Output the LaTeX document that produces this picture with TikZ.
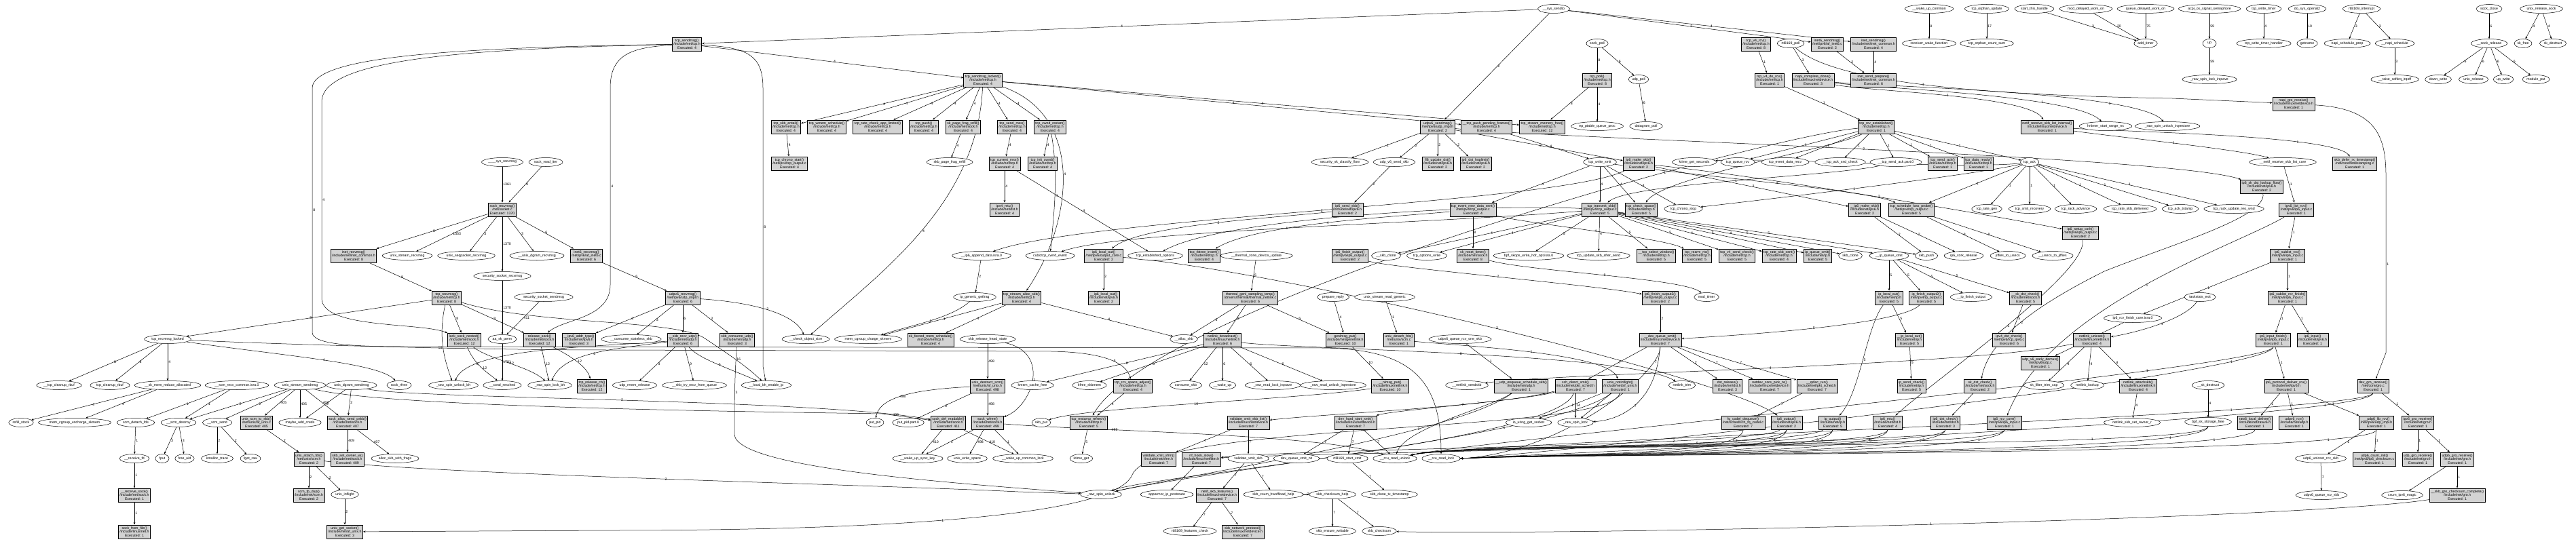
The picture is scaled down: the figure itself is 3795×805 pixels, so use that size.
\documentclass[tikz,border=0pt]{standalone}
\usepackage{fontspec}
\setmainfont{Liberation Sans}
\usetikzlibrary{shapes.geometric,arrows.meta,backgrounds}
\definecolor{boxgray}{RGB}{211,211,211}
\newcommand{\nf}{\fontsize{5.2}{5.6}\selectfont}
\tikzset{
 fn/.style={draw, line width=0.85pt, fill=boxgray, rectangle, align=center, inner xsep=2pt, inner ysep=1pt, minimum height=20pt, font=\nf},
 ex/.style={draw, line width=0.5pt, ellipse, fill=white, inner xsep=0.6pt, inner ysep=0.3pt, minimum height=13pt, minimum width=20pt, font=\nf},
 e/.style={-{Stealth[length=3.6pt,width=2.8pt]}, line width=0.5pt},
 lb/.style={font=\nf, inner sep=1pt, right, pos=0.5}
}
\newcommand{\FB}[6]{\node[fn] (#3) at (#1,#2) {#4\\#5\\Executed: #6};}
\newcommand{\EL}[4]{\node[ex] (#3) at (#1,#2) {#4};}
\newcommand{\edg}[3]{\draw[e] (#1) -- node[lb]{#3} (#2);}
\begin{document}
\catcode`\_=12
\begin{tikzpicture}[x=1pt,y=-1pt]
\useasboundingbox (0,0) rectangle (3795,805);
% ---------- boxes ----------
\FB{521}{377}{inetrecv}{inet_recvmsg()}{/include/net/inet_common.h}{8}
\FB{1012}{65}{tcpsendmsg}{tcp_sendmsg()}{/include/net/tcp.h}{4}
\FB{1158}{187}{skbentail}{tcp_skb_entail()}{/include/net/tcp.h}{4}
\FB{1218}{187}{wmemsched}{tcp_wmem_schedule()}{/include/net/tcp.h}{4}
\FB{1163}{241}{chronostart}{tcp_chrono_start()}{/net/ipv4/tcp_output.c}{4}
\FB{740}{309}{sockrecv}{sock_recvmsg()}{/net/socket.c}{1370}
\FB{864}{377}{inet6recv}{inet6_recvmsg()}{/net/ipv6/af_inet6.c}{6}
\FB{1448}{118}{sendlocked}{tcp_sendmsg_locked()}{/include/net/tcp.h}{4}
\FB{1293}{187}{ratecheck}{tcp_rate_check_app_limited()}{/include/net/tcp.h}{4}
\FB{1361}{187}{tcppush}{tcp_push()}{/include/net/tcp.h}{4}
\FB{1419}{187}{pagefrag}{sk_page_frag_refill()}{/include/net/sock.h}{4}
\FB{1491}{187}{sendmss}{tcp_send_mss()}{/include/net/tcp.h}{4}
\FB{1547}{187}{cwndrestart}{tcp_cwnd_restart()}{/include/net/tcp.h}{4}
\FB{1480}{241}{curmss}{tcp_current_mss()}{/include/net/tcp.h}{4}
\FB{1536}{241}{initcwnd}{tcp_init_cwnd()}{/include/net/tcp.h}{4}
\FB{1480}{309}{ipv4mtu}{ipv4_mtu()}{/include/net/dst.h}{4}
\FB{1626}{377}{ip6localout}{ip6_local_out()}{/net/ipv6/output_core.c}{2}
\FB{1774}{377}{rbtree}{tcp_rbtree_insert()}{/include/net/tcp.h}{4}
\FB{2353}{118}{tcppoll}{tcp_poll()}{/include/net/tcp.h}{8}
\FB{2118}{187}{udpv6send}{udpv6_sendmsg()}{/net/ipv6/udp_impl.h}{2}
\FB{2190}{187}{pushpending}{__tcp_push_pending_frames()}{/include/net/tcp.h}{4}
\FB{2272}{187}{memfree}{tcp_stream_memory_free()}{/include/net/tcp.h}{12}
\FB{2118}{241}{fl6upd}{fl6_update_dst()}{/include/net/ipv6.h}{2}
\FB{2174}{241}{hoplimit}{ip6_dst_hoplimit()}{/include/net/ipv6.h}{2}
\FB{2414}{241}{ip6makeskb}{ip6_make_skb()}{/include/net/ipv6.h}{2}
\FB{1985}{309}{ip6sendskb}{ip6_send_skb()}{/include/net/ipv6.h}{2}
\FB{2170}{309}{newdata}{tcp_event_new_data_sent()}{/net/ipv4/tcp_output.c}{4}
\FB{2357}{309}{transmit}{__tcp_transmit_skb()}{/net/ipv4/tcp_output.c}{5}
\FB{2418}{309}{checkspace}{tcp_check_space()}{/include/net/tcp.h}{5}
\FB{1989}{377}{ip6finout}{ip6_finish_output()}{/net/ipv6/ip6_output.c}{2}
\FB{2170}{377}{resettimer}{sk_reset_timer()}{/include/net/sock.h}{8}
\FB{2440}{377}{selwin}{__tcp_select_window()}{/include/net/tcp.h}{5}
\FB{2500}{377}{rearm}{tcp_rearm_rto()}{/include/net/tcp.h}{5}
\FB{2587}{65}{v4rcv}{tcp_v4_rcv()}{/include/net/tcp.h}{8}
\FB{2692}{65}{inet6send}{inet6_sendmsg()}{/net/ipv6/af_inet6.c}{2}
\FB{2760}{65}{inetsend}{inet_sendmsg()}{/include/net/inet_common.h}{4}
\FB{2607}{118}{v4dorcv}{tcp_v4_do_rcv()}{/include/net/tcp.h}{1}
\FB{2671}{118}{napicomplete}{napi_complete_done()}{/include/linux/netdevice.h}{3}
\FB{2760}{118}{sendprep}{inet_send_prepare()}{/include/net/inet_common.h}{6}
\FB{2764}{187}{rcvest}{tcp_rcv_established()}{/include/net/tcp.h}{1}
\FB{3016}{187}{netifrecv}{netif_receive_skb_list_internal()}{/include/linux/netdevice.h}{1}
\FB{2862}{241}{sendack}{tcp_send_ack()}{/include/net/tcp.h}{1}
\FB{2915}{241}{dataready}{tcp_data_ready()}{/include/net/tcp.h}{1}
\FB{2747}{309}{ip6mkskb2}{__ip6_make_skb()}{/include/net/ipv6.h}{2}
\FB{2816}{309}{losspr}{tcp_schedule_loss_probe()}{/net/ipv4/tcp_output.c}{5}
\FB{3065}{343}{setupcork}{ip6_setup_cork()}{/net/ipv6/ip6_output.c}{2}
\FB{2559}{377}{v4sendcheck}{tcp_v4_send_check()}{/include/net/tcp.h}{5}
\FB{2621}{377}{rateskbsent}{tcp_rate_skb_sent()}{/include/net/tcp.h}{4}
\FB{2678}{377}{ipqueuexmit}{ip_queue_xmit()}{/include/net/ip.h}{5}
\FB{3379}{153}{napigro}{napi_gro_receive()}{/include/linux/netdevice.h}{1}
\FB{3469}{241}{deferrx}{skb_defer_rx_timestamp()}{/net/core/timestamping.c}{1}
\FB{3332}{275}{sklookup}{ip6_sk_dst_lookup_flow()}{/include/net/ipv6.h}{2}
\FB{3383}{309}{ipv6listrcv}{ipv6_list_rcv()}{/net/ipv6/ip6_input.c}{1}
\FB{3370}{377}{sublistrcv}{ip6_sublist_rcv()}{/net/ipv6/ip6_input.c}{1}
\FB{378}{623}{unixscm}{unix_scm_to_skb()}{/net/unix/af_unix.c}{405}
\FB{512}{623}{allocsend}{sock_alloc_send_pskb()}{/include/net/sock.h}{407}
\FB{455}{677}{attachfds}{unix_attach_fds()}{/net/unix/scm.h}{2}
\FB{512}{677}{setownerw}{skb_set_owner_w()}{/include/net/sock.h}{409}
\FB{198}{730}{recvsock}{__receive_sock()}{/include/net/sock.h}{1}
\FB{455}{730}{fpdup}{scm_fp_dup()}{/include/net/scm.h}{2}
\FB{198}{784}{fromfile}{sock_from_file()}{/include/linux/net.h}{1}
\FB{508}{784}{getsocket}{unix_get_socket()}{/include/net/af_unix.h}{3}
\FB{658}{439}{tcprecv}{tcp_recvmsg()}{/include/net/tcp.h}{8}
\FB{1006}{439}{udpv6recv}{udpv6_recvmsg()}{/net/ipv6/udp_impl.h}{6}
\FB{684}{501}{locknested}{lock_sock_nested()}{/include/net/sock.h}{12}
\FB{795}{501}{releasesock}{release_sock()}{/include/net/sock.h}{12}
\FB{853}{501}{addrtype}{__ipv6_addr_type()}{/include/net/ipv6.h}{3}
\FB{1006}{501}{skbrecvudp}{__skb_recv_udp()}{/include/net/udp.h}{6}
\FB{1086}{501}{consumeudp}{skb_consume_udp()}{/include/net/udp.h}{3}
\FB{872}{569}{releasecb}{tcp_release_cb()}{/include/net/tcp.h}{12}
\FB{1505}{439}{allocskb}{tcp_stream_alloc_skb()}{/include/net/tcp.h}{4}
\FB{1626}{439}{ip6localout2}{__ip6_local_out()}{/include/net/ipv6.h}{2}
\FB{1842}{439}{thermalgenl}{thermal_genl_sampling_temp()}{/drivers/thermal/thermal_netlink.c}{6}
\FB{1371}{501}{forcedmem}{sk_forced_mem_schedule()}{/include/net/tcp.h}{4}
\FB{1801}{501}{nlbroadcast}{netlink_broadcast()}{/include/linux/netlink.h}{6}
\FB{1455}{569}{destructscm}{unix_destruct_scm()}{/net/unix/af_unix.h}{498}
\FB{1669}{569}{spaceadj}{tcp_rcv_space_adjust()}{/include/net/tcp.h}{4}
\FB{1397}{623}{defreadable}{sock_def_readable()}{/include/net/sock.h}{411}
\FB{1455}{623}{sockwfree}{sock_wfree()}{/include/net/sock.h}{499}
\FB{1604}{623}{mstamp}{tcp_mstamp_refresh()}{/include/net/tcp.h}{5}
\FB{1839}{623}{vxlist}{validate_xmit_skb_list()}{/include/linux/netdevice.h}{7}
\FB{1707}{677}{vxfrm}{validate_xmit_xfrm()}{/include/net/xfrm.h}{7}
\FB{1770}{677}{nfhook}{nf_hook_slow()}{/include/linux/netfilter.h}{7}
\FB{1793}{730}{skbfeat}{netif_skb_features()}{/include/linux/netdevice.h}{7}
\FB{1831}{784}{netproto}{skb_network_protocol()}{/include/linux/netdevice.h}{7}
\FB{2446}{439}{ip6finout2}{ip6_finish_output2()}{/net/ipv6/ip6_output.c}{2}
\FB{1982}{501}{genlmsgput}{genlmsg_put()}{/include/net/genetlink.h}{10}
\FB{2061}{501}{detachfds}{unix_detach_fds()}{/net/unix/scm.c}{1}
\FB{2446}{501}{devqxmit}{__dev_queue_xmit()}{/include/linux/netdevice.h}{7}
\FB{2048}{569}{nlmsgput}{__nlmsg_put()}{/include/linux/netlink.h}{10}
\FB{2241}{569}{udpenq}{__udp_enqueue_schedule_skb()}{/include/net/udp.h}{1}
\FB{2321}{569}{schdirect}{sch_direct_xmit()}{/include/net/pkt_sched.h}{7}
\FB{2387}{569}{notinflight}{unix_notinflight()}{/include/net/af_unix.h}{1}
\FB{2545}{569}{dstrelease}{dst_release()}{/include/net/dst.h}{3}
\FB{1997}{623}{hardstart}{dev_hard_start_xmit()}{/include/linux/netdevice.h}{7}
\FB{2783}{439}{iplocalout}{ip_local_out()}{/include/net/ip.h}{5}
\FB{2838}{439}{ipfinout2}{ip_finish_output2()}{/net/ipv4/ip_output.c}{5}
\FB{2984}{439}{skdstcheck2}{__sk_dst_check()}{/include/net/sock.h}{5}
\FB{2813}{501}{iplocalout2}{__ip_local_out()}{/include/net/ip.h}{5}
\FB{2960}{501}{v4dstcheck}{ipv4_dst_check()}{/net/ipv6/tcp_ipv6.c}{6}
\FB{3082}{501}{nlunicast}{netlink_unicast()}{/include/linux/netlink.h}{4}
\FB{3006}{535}{earlydemux}{udp_v6_early_demux()}{/net/ipv6/udp.c}{1}
\FB{2607}{569}{pickTx}{netdev_core_pick_tx()}{/include/linux/netdevice.h}{7}
\FB{2677}{569}{qdiscrun}{__qdisc_run()}{/include/net/pkt_sched.h}{7}
\FB{2816}{569}{ipsendcheck}{ip_send_check()}{/include/net/ip.h}{5}
\FB{2917}{569}{skdstcheck}{sk_dst_check()}{/include/net/sock.h}{2}
\FB{3150}{569}{attachskb}{netlink_attachskb()}{/include/linux/netlink.h}{4}
\FB{2568}{623}{fqcodel}{fq_codel_dequeue()}{/net/sched/sch_fq_codel.c}{7}
\FB{2632}{623}{ip6output}{ip6_output()}{/include/net/ipv6.h}{2}
\FB{2700}{623}{ipoutput}{ip_output()}{/include/net/ip.h}{5}
\FB{2781}{623}{ip6mtu}{ip6_mtu()}{/include/net/dst.h}{4}
\FB{2866}{623}{ip6dstcheck}{ip6_dst_check()}{/include/net/dst.h}{3}
\FB{2953}{623}{ip6rcvcore}{ip6_rcv_core()}{/net/ipv6/ip6_input.c}{1}
\FB{3370}{439}{sublistfin}{ip6_sublist_rcv_finish()}{/net/ipv6/ip6_input.c}{1}
\FB{3349}{501}{inputfin}{ip6_input_finish()}{/net/ipv6/ip6_input.c}{1}
\FB{3407}{501}{ip6input}{ip6_input()}{/include/net/ipv6.h}{1}
\FB{3368}{569}{protodeliver}{ip6_protocol_deliver_rcu()}{/include/net/ipv6.h}{1}
\FB{3496}{569}{devgro}{dev_gro_receive()}{/net/core/gro.c}{1}
\FB{3322}{623}{rawdeliver}{raw6_local_deliver()}{/include/net/rawv6.h}{1}
\FB{3380}{623}{udpv6rcv}{udpv6_rcv()}{/include/net/udp.h}{1}
\FB{3501}{623}{udp6librcv}{__udp6_lib_rcv()}{/net/ipv6/udp_impl.h}{1}
\FB{3562}{623}{ipv6gro}{ipv6_gro_receive()}{/include/net/gro.h}{1}
\FB{3498}{677}{csuminit}{udp6_csum_init()}{/net/ipv6/ip6_checksum.c}{1}
\FB{3562}{677}{udpgro}{udp_gro_receive()}{/include/net/gro.h}{1}
\FB{3620}{677}{udp6gro}{udp6_gro_receive()}{/include/net/gro.h}{1}
\FB{3620}{730}{grocsum}{__skb_gro_checksum_complete()}{/include/net/gro.h}{1}
% ---------- ellipses ----------
\EL{600}{377}{unixstreamrecv}{unix_stream_recvmsg}
\EL{740}{239}{sysrecv}{____sys_recvmsg}
\EL{804}{239}{readiter}{sock_read_iter}
\EL{687}{377}{seqpacket}{unix_seqpacket_recvmsg}
\EL{791}{377}{dgramrecv}{__unix_dgram_recvmsg}
\EL{740}{407}{secrecv}{security_socket_recvmsg}
\EL{1399}{239}{pagefragrefill}{skb_page_frag_refill}
\EL{1446}{377}{appenddata}{__ip6_append_data.isra.0}
\EL{1547}{377}{cubic}{cubictcp_cwnd_event}
\EL{1702}{377}{estopts}{tcp_established_options}
\EL{1851}{377}{thermalupd}{__thermal_zone_device_update}
\EL{2289}{13}{systo}{__sys_sendto}
\EL{2353}{64}{sockpoll}{sock_poll}
\EL{2414}{117}{udppoll}{udp_poll}
\EL{2353}{186}{epqueue}{ep_ptable_queue_proc}
\EL{2425}{186}{dgrampoll}{datagram_poll}
\EL{1974}{239}{classify}{security_sk_classify_flow}
\EL{2054}{239}{v6sendskb}{udp_v6_send_skb}
\EL{2357}{239}{writexmit}{tcp_write_xmit}
\EL{2496}{239}{ktimesec}{ktime_get_seconds}
\EL{2480}{308}{chronostop}{tcp_chrono_stop}
\EL{2042}{377}{skbclone2}{__skb_clone}
\EL{2102}{377}{optwrite}{tcp_options_write}
\EL{2252}{377}{bpfskops}{bpf_skops_write_hdr_opt.isra.0}
\EL{2355}{377}{updafter}{tcp_update_skb_after_send}
\EL{2842}{13}{wakeupcommon}{__wake_up_common}
\EL{2927}{13}{orphanupd}{tcp_orphan_update}
\EL{2997}{13}{starthandle}{start_this_handle}
\EL{3073}{13}{moddelayed}{mod_delayed_work_on}
\EL{3161}{13}{queuedelayed}{queue_delayed_work_on}
\EL{2842}{64}{recvwake}{receiver_wake_function}
\EL{2927}{64}{orphancount}{tcp_orphan_count_sum}
\EL{3161}{64}{addtimer}{add_timer}
\EL{2638}{64}{rtlpoll}{rtl8169_poll}
\EL{3102}{186}{hrtimer}{hrtimer_start_range_ns}
\EL{3193}{186}{unlockirq}{_raw_spin_unlock_irqrestore}
\EL{2560}{239}{queuercv}{tcp_queue_rcv}
\EL{2630}{239}{datarecv}{tcp_event_data_recv}
\EL{2711}{239}{acksnd}{__tcp_ack_snd_check}
\EL{2793}{239}{sendackpart}{__tcp_send_ack.part.0}
\EL{2990}{239}{tcpack}{tcp_ack}
\EL{2927}{308}{rategen}{tcp_rate_gen}
\EL{2990}{308}{xmitrec}{tcp_xmit_recovery}
\EL{3058}{308}{rackadv}{tcp_rack_advance}
\EL{3138}{308}{rateskbdel}{tcp_rate_skb_delivered}
\EL{2726}{377}{skbclone}{skb_clone}
\EL{2783}{377}{ipqxmit2}{__ip_queue_xmit}
\EL{2838}{377}{skbpush}{skb_push}
\EL{2893}{377}{corkrel}{ip6_cork_release}
\EL{2958}{377}{jif2usec}{jiffies_to_usecs}
\EL{3024}{377}{usec2jif}{__usecs_to_jiffies}
\EL{3255}{13}{acpisig}{acpi_os_signal_semaphore}
\EL{3335}{13}{writetimer}{tcp_write_timer}
\EL{3399}{13}{openat}{do_sys_openat2}
\EL{3479}{13}{rtlint}{rtl8169_interrupt}
\EL{3667}{13}{sockclose}{sock_close}
\EL{3744}{13}{unixrelsock}{unix_release_sock}
\EL{3255}{64}{up}{up}
\EL{3335}{64}{writetimerh}{tcp_write_timer_handler}
\EL{3399}{64}{getname}{getname}
\EL{3458}{64}{napisched}{napi_schedule_prep}
\EL{3528}{64}{napisched2}{__napi_schedule}
\EL{3667}{64}{sockrelease}{__sock_release}
\EL{3717}{64}{skfree}{sk_free}
\EL{3761}{64}{skdestruct}{sk_destruct}
\EL{3255}{117}{lockirqsave}{_raw_spin_lock_irqsave}
\EL{3528}{117}{raisesoftirq}{__raise_softirq_irqoff}
\EL{3592}{117}{downwrite}{down_write}
\EL{3644}{117}{unixrelease}{unix_release}
\EL{3688}{117}{upwrite}{up_write}
\EL{3736}{117}{moduleput}{module_put}
\EL{3363}{239}{listcore}{__netif_receive_skb_list_core}
\EL{3212}{308}{acktstamp}{tcp_ack_tstamp}
\EL{3291}{308}{reownd}{tcp_rack_update_reo_wnd}
\EL{247}{500}{recvlocked}{tcp_recvmsg_locked}
\EL{87}{568}{cleanrbuf2}{__tcp_cleanup_rbuf}
\EL{162}{568}{cleanrbuf}{tcp_cleanup_rbuf}
\EL{247}{568}{memreduce}{__sk_mem_reduce_allocated}
\EL{349}{568}{scmrecv}{__scm_recv_common.isra.0}
\EL{442}{568}{unixstreamsend}{unix_stream_sendmsg}
\EL{518}{568}{unixdgramsend}{unix_dgram_sendmsg}
\EL{588}{568}{sockrfree}{sock_rfree}
\EL{31}{623}{refill}{refill_stock}
\EL{110}{623}{uncharge}{mem_cgroup_uncharge_skmem}
\EL{200}{623}{scmdetach}{scm_detach_fds}
\EL{263}{623}{scmdestroy}{__scm_destroy}
\EL{320}{623}{scmsend}{__scm_send}
\EL{442}{623}{addcreds}{maybe_add_creds}
\EL{198}{676}{receivefd}{__receive_fd}
\EL{239}{676}{fput}{fput}
\EL{272}{676}{freeuid}{free_uid}
\EL{320}{676}{kmalloc}{kmalloc_trace}
\EL{369}{676}{fgetraw}{fget_raw}
\EL{582}{676}{allocfrags}{alloc_skb_with_frags}
\EL{508}{729}{inflight}{unix_inflight}
\EL{801}{438}{secsend}{security_socket_sendmsg}
\EL{740}{500}{aaperm}{aa_sk_perm}
\EL{930}{500}{consumestateless}{__consume_stateless_skb}
\EL{1187}{500}{checkobj}{__check_object_size}
\EL{1279}{500}{charge}{mem_cgroup_charge_skmem}
\EL{668}{568}{unlockbh}{_raw_spin_unlock_bh}
\EL{740}{568}{condresched}{__cond_resched}
\EL{810}{568}{lockbh}{_raw_spin_lock_bh}
\EL{935}{568}{rmemrel}{udp_rmem_release}
\EL{1023}{568}{tryrecv}{__skb_try_recv_from_queue}
\EL{1129}{568}{bhenable}{__local_bh_enable_ip}
\EL{1436}{438}{getfrag}{ip_generic_getfrag}
\EL{1455}{500}{headstate}{skb_release_head_state}
\EL{1744}{500}{allocskb2}{__alloc_skb}
\EL{1521}{568}{kmemfree}{kmem_cache_free}
\EL{1605}{568}{kfreeskbmem}{kfree_skbmem}
\EL{1747}{568}{consumeskb}{consume_skb}
\EL{1801}{568}{wakeup}{__wake_up}
\EL{1875}{568}{readlock}{_raw_read_lock_irqsave}
\EL{1964}{568}{readunlock}{_raw_read_unlock_irqrestore}
\EL{1289}{623}{putpid}{put_pid}
\EL{1338}{623}{putpidpart}{put_pid.part.0}
\EL{1534}{623}{skbput}{skb_put}
\EL{1352}{676}{wakesync}{__wake_up_sync_key}
\EL{1425}{676}{writespace}{unix_write_space}
\EL{1507}{676}{wakecommonlock}{__wake_up_common_lock}
\EL{1593}{676}{ktimeget}{ktime_get}
\EL{1839}{676}{vxskb}{validate_xmit_skb}
\EL{1910}{676}{qxmitnit}{dev_queue_xmit_nit}
\EL{1622}{729}{spinunlock}{_raw_spin_unlock}
\EL{1719}{729}{apparmor}{apparmor_ip_postroute}
\EL{1876}{729}{hwoffload}{skb_csum_hwoffload_help}
\EL{1753}{783}{featcheck}{rtl8169_features_check}
\EL{1964}{438}{preparereply}{prepare_reply}
\EL{2040}{438}{readgeneric}{unix_stream_read_generic}
\EL{2514}{438}{modtimer}{mod_timer}
\EL{2151}{500}{queuercvone}{udpv6_queue_rcv_one_skb}
\EL{2161}{568}{nlsendskb}{__netlink_sendskb}
\EL{2478}{568}{nltrim}{netlink_trim}
\EL{2252}{623}{iouring}{io_uring_get_socket}
\EL{2321}{623}{spinlock}{_raw_spin_lock}
\EL{2055}{676}{rcuunlock}{__rcu_read_unlock}
\EL{2123}{676}{rculock}{__rcu_read_lock}
\EL{1985}{676}{startxmit}{rtl8169_start_xmit}
\EL{1963}{729}{csumhelp}{skb_checksum_help}
\EL{2047}{729}{clonets}{skb_clone_tx_timestamp}
\EL{1963}{783}{ensurewr}{skb_ensure_writable}
\EL{2032}{783}{skbchecksum}{skb_checksum}
\EL{2904}{438}{ipfinout}{__ip_finish_output}
\EL{3142}{469}{rcvfincore}{ip6_rcv_finish_core.isra.0}
\EL{3011}{568}{filtertrim}{sk_filter_trim_cap}
\EL{3075}{568}{nllookup}{netlink_lookup}
\EL{3141}{623}{setownerr}{netlink_skb_set_owner_r}
\EL{3241}{438}{taskstats}{taskstats_exit}
\EL{3253}{568}{skdestruct2}{__sk_destruct}
\EL{3253}{622}{bpfstorage}{bpf_sk_storage_free}
\EL{3419}{676}{unicastrcv}{udp6_unicast_rcv_skb}
\EL{3420}{730}{queuercvskb}{udpv6_queue_rcv_skb}
\EL{3539}{730}{csummagic}{csum_ipv6_magic}
% ---------- edges ----------
\begin{pgfonlayer}{background}
\fill[white] (0,0) rectangle (3795,805);
% receive side
\edg{sysrecv}{sockrecv}{1361}
\edg{readiter}{sockrecv}{9}
\edg{sockrecv}{inetrecv}{8}
\edg{sockrecv}{unixstreamrecv}{1353}
\edg{sockrecv}{seqpacket}{3}
\edg{sockrecv}{dgramrecv}{3}
\edg{sockrecv}{inet6recv}{6}
\edg{sockrecv}{secrecv}{1370}
\edg{secrecv}{aaperm}{1370}
\edg{secsend}{aaperm}{411}
\edg{aaperm}{condresched}{1781}
\edg{inetrecv}{tcprecv}{8}
\edg{inet6recv}{udpv6recv}{6}
\edg{tcprecv}{recvlocked}{8}
\edg{tcprecv}{locknested}{8}
\edg{tcprecv}{releasesock}{8}
\draw[e] (tcprecv) .. controls (645,500) and (655,530) .. node[lb,left]{16} (unlockbh);
\draw[e] (tcprecv) .. controls (790,480) and (1000,470) .. (1040,500) .. controls (1070,520) and (1100,540) .. node[lb]{16} (bhenable);
\draw[e] (locknested) .. controls (700,540) and (720,550) .. node[lb]{12} (condresched);
\draw[e] (locknested) .. controls (720,530) and (780,540) .. node[lb]{12} (lockbh);
\edg{releasesock}{lockbh}{12}
\draw[e] (releasesock) .. controls (840,525) and (865,540) .. node[lb]{12} (releasecb);
\draw[e] (skbrecvudp) .. controls (900,515) and (830,520) .. node[lb]{6} (lockbh);
\draw[e] (skbrecvudp) .. controls (880,512) and (690,512) .. node[lb,pos=0.8]{6} (unlockbh);
\edg{skbrecvudp}{rmemrel}{3}
\edg{skbrecvudp}{tryrecv}{9}
\draw[e] (skbrecvudp) .. controls (1030,530) and (1080,545) .. node[lb]{6} (bhenable);
\edg{udpv6recv}{addrtype}{3}
\edg{udpv6recv}{consumestateless}{3}
\edg{udpv6recv}{skbrecvudp}{6}
\edg{udpv6recv}{consumeudp}{3}
\draw[e] (udpv6recv) .. controls (1100,445) and (1170,460) .. node[lb]{3} (checkobj);
\draw[e] (consumeudp) .. controls (1082,560) and (1082,600) .. node[lb]{3} (1082,640) .. controls (1082,690) and (1400,712) .. (spinunlock);
% tcp_sendmsg long edges
\draw[e] (tcpsendmsg) .. controls (700,70) and (460,80) .. (460,130) -- node[lb]{8} (460,490) .. controls (460,508) and (520,511) .. (600,511) -- (1950,513) .. controls (2080,515) and (2123,560) .. (rculock);
\draw[e] (tcpsendmsg) .. controls (700,72) and (474,85) .. (474,150) -- node[lb]{4} (474,440) .. controls (474,485) and (620,475) .. (locknested);
\draw[e] (tcpsendmsg) .. controls (930,70) and (899,80) .. (899,130) -- node[lb]{4} (899,420) .. controls (899,470) and (830,470) .. (releasesock);
\draw[e] (tcpsendmsg) .. controls (1100,70) and (1124,80) .. (1124,130) -- node[lb]{8} (1124,540) -- (bhenable);
\edg{systo}{tcpsendmsg}{4}
\edg{tcpsendmsg}{sendlocked}{4}
% recvmsg_locked
\edg{recvlocked}{cleanrbuf2}{8}
\edg{recvlocked}{cleanrbuf}{8}
\edg{recvlocked}{memreduce}{4}
\draw[e] (recvlocked) .. controls (420,525) and (560,535) .. node[lb]{4} (sockrfree);
\draw[e] (recvlocked) .. controls (420,508) and (700,516) .. (900,516) -- (1550,518) .. controls (1640,520) and (1660,540) .. node[lb]{4} (spaceadj);
\edg{memreduce}{refill}{4}
\edg{memreduce}{uncharge}{4}
\edg{scmrecv}{scmdetach}{1}
\edg{scmrecv}{scmdestroy}{1}
\edg{unixstreamsend}{scmdestroy}{2}
\edg{unixstreamsend}{scmsend}{2}
\edg{unixstreamsend}{unixscm}{405}
\edg{unixstreamsend}{addcreds}{405}
\edg{unixstreamsend}{allocsend}{403}
\edg{unixdgramsend}{addcreds}{2}
\edg{unixdgramsend}{allocsend}{2}
\draw[e] (unixstreamsend) .. controls (560,600) and (1100,607) .. (1300,610) -- node[lb,pos=0.2]{403} (defreadable);
\draw[e] (unixdgramsend) .. controls (600,588) and (1200,588) .. node[lb]{2} (defreadable);
\edg{unixscm}{attachfds}{2}
\edg{allocsend}{setownerw}{409}
\edg{allocsend}{allocfrags}{407}
\edg{scmdetach}{receivefd}{1}
\edg{scmdestroy}{fput}{3}
\edg{scmdestroy}{freeuid}{3}
\edg{scmsend}{kmalloc}{2}
\edg{scmsend}{fgetraw}{2}
\edg{attachfds}{fpdup}{2}
\edg{attachfds}{inflight}{2}
\edg{receivefd}{recvsock}{1}
\edg{recvsock}{fromfile}{1}
\edg{inflight}{getsocket}{2}
\draw[e] (attachfds) .. controls (650,700) and (1300,715) .. node[lb]{2} (1500,725) -- (spinunlock);
\draw[e] (notinflight) .. controls (2380,640) and (1700,620) .. (1668,700) .. controls (1640,770) and (1200,782) .. node[lb]{1} (900,782) -- (getsocket);
% tcp_sendmsg_locked
\edg{sendlocked}{skbentail}{4}
\edg{sendlocked}{wmemsched}{4}
\edg{sendlocked}{ratecheck}{4}
\edg{sendlocked}{tcppush}{4}
\edg{sendlocked}{pagefrag}{4}
\edg{sendlocked}{sendmss}{4}
\edg{sendlocked}{cwndrestart}{4}
\edg{sendlocked}{pushpending}{4}
\edg{sendlocked}{memfree}{4}
\draw[e] (sendlocked) .. controls (1440,300) and (1300,400) .. node[lb]{4} (checkobj);
\draw[e] (sendlocked) .. controls (1600,170) and (1580,330) .. node[lb]{4} (allocskb);
\edg{skbentail}{chronostart}{4}
\edg{pagefrag}{pagefragrefill}{4}
\edg{sendmss}{curmss}{4}
\edg{cwndrestart}{initcwnd}{4}
\draw[e] (cwndrestart) .. controls (1560,260) and (1552,320) .. node[lb]{4} (cubic);
\edg{curmss}{ipv4mtu}{4}
\edg{curmss}{estopts}{4}
\edg{appenddata}{getfrag}{2}
\edg{ip6localout}{ip6localout2}{2}
\edg{thermalupd}{thermalgenl}{6}
% send side
\edg{systo}{udpv6send}{2}
\edg{systo}{inet6send}{2}
\edg{systo}{inetsend}{4}
\edg{sockpoll}{tcppoll}{8}
\edg{sockpoll}{udppoll}{6}
\edg{tcppoll}{epqueue}{4}
\edg{tcppoll}{memfree}{8}
\edg{udppoll}{dgrampoll}{6}
\edg{udpv6send}{classify}{2}
\edg{udpv6send}{v6sendskb}{2}
\edg{udpv6send}{fl6upd}{2}
\edg{udpv6send}{hoplimit}{2}
\edg{udpv6send}{ip6makeskb}{2}
\draw[e] (udpv6send) .. controls (2300,205) and (3200,230) .. node[lb]{2} (sklookup);
\edg{v6sendskb}{ip6sendskb}{2}
\draw[e] (ip6sendskb) .. controls (1900,320) and (1680,330) .. node[lb]{2} (ip6localout);
\edg{pushpending}{writexmit}{4}
\edg{writexmit}{newdata}{4}
\edg{writexmit}{transmit}{4}
\edg{writexmit}{checkspace}{4}
\edg{writexmit}{chronostop}{4}
\draw[e] (writexmit) .. controls (2500,260) and (2750,280) .. node[lb]{4} (losspr);
\edg{transmit}{skbclone2}{4}
\edg{transmit}{optwrite}{4}
\edg{transmit}{bpfskops}{5}
\edg{transmit}{updafter}{4}
\edg{transmit}{selwin}{5}
\edg{transmit}{v4sendcheck}{5}
\edg{transmit}{rateskbsent}{4}
\edg{transmit}{ipqueuexmit}{5}
\edg{transmit}{skbclone}{4}
\edg{transmit}{ipqxmit2}{5}
\edg{transmit}{skbpush}{5}
\draw[e] (transmit) .. controls (2200,300) and (1800,320) .. node[lb]{5} (estopts);
\draw[e] (transmit) .. controls (2100,330) and (1650,340) .. node[lb]{4} (cubic);
\edg{newdata}{resettimer}{8}
\draw[e] (newdata) .. controls (2250,330) and (2450,350) .. node[lb]{4} (rearm);
\draw[e] (newdata) .. controls (2050,320) and (1850,330) .. node[lb]{4} (rbtree);
\draw[e] (resettimer) .. controls (2250,400) and (2480,410) .. node[lb]{8} (modtimer);
\draw[e] (ip6finout) .. controls (2050,395) and (2350,420) .. node[lb]{2} (ip6finout2);
\edg{ip6finout2}{devqxmit}{2}
\edg{ip6makeskb}{ip6mkskb2}{2}
\draw[e] (ip6makeskb) .. controls (2600,260) and (2950,320) .. node[lb]{2} (setupcork);
\draw[e] (ip6makeskb) .. controls (2300,300) and (1600,320) .. node[lb]{2} (appenddata);
\edg{ip6mkskb2}{skbpush}{2}
\edg{ip6mkskb2}{corkrel}{2}
\edg{losspr}{jif2usec}{8}
\edg{losspr}{usec2jif}{8}
\edg{ipqxmit2}{iplocalout}{5}
\edg{ipqxmit2}{ipfinout2}{5}
\edg{ipqxmit2}{ipfinout}{5}
\edg{ipqxmit2}{skdstcheck2}{5}
\edg{skdstcheck2}{v4dstcheck}{5}
\edg{iplocalout}{iplocalout2}{5}
\edg{iplocalout2}{ipsendcheck}{5}
\draw[e] (iplocalout) .. controls (2750,480) and (2740,580) .. node[lb]{5} (ipoutput);
\draw[e] (ipfinout2) .. controls (2800,480) and (2550,495) .. node[lb]{5} (devqxmit);
\draw[e] (ip6localout) .. controls (1900,400) and (2550,560) .. node[lb]{2} (ip6output);
\draw[e] (ipoutput) .. controls (2650,662) and (1900,668) .. node[lb,pos=0.3]{5} (nfhook);
\draw[e] (ip6output) .. controls (2600,658) and (1950,660) .. node[lb,pos=0.3]{2} (nfhook);
\draw[e] (setupcork) .. controls (3080,400) and (2850,560) .. node[lb]{2} (ip6mtu);
\draw[e] (sklookup) .. controls (3340,320) and (3200,360) .. (3100,400) .. controls (3000,450) and (2930,500) .. node[lb]{2} (skdstcheck);
\edg{skdstcheck}{ip6dstcheck}{2}
\edg{devqxmit}{pickTx}{7}
\edg{devqxmit}{qdiscrun}{7}
\edg{devqxmit}{schdirect}{7}
\edg{devqxmit}{dstrelease}{2}
\draw[e] (devqxmit) .. controls (2440,600) and (2380,620) .. node[lb]{7} (spinlock);
\edg{qdiscrun}{fqcodel}{7}
\edg{schdirect}{spinlock}{14}
\draw[e] (schdirect) .. controls (2250,590) and (2050,605) .. node[lb]{7} (hardstart);
\draw[e] (schdirect) .. controls (2200,600) and (1950,610) .. node[lb,pos=0.3]{7} (vxlist);
\draw[e] (schdirect) .. controls (2300,650) and (1700,700) .. node[lb,pos=0.2]{14} (spinunlock);
\edg{vxlist}{vxfrm}{7}
\edg{vxlist}{vxskb}{7}
\edg{vxskb}{skbfeat}{7}
\edg{vxskb}{hwoffload}{7}
\edg{skbfeat}{featcheck}{7}
\edg{skbfeat}{netproto}{7}
\edg{hwoffload}{csumhelp}{7}
\edg{csumhelp}{ensurewr}{7}
\edg{csumhelp}{skbchecksum}{7}
\edg{hardstart}{qxmitnit}{7}
\edg{hardstart}{startxmit}{7}
\edg{hardstart}{rcuunlock}{7}
\edg{startxmit}{clonets}{7}
\edg{nfhook}{apparmor}{7}
% netlink / thermal
\edg{thermalgenl}{allocskb2}{6}
\edg{thermalgenl}{nlbroadcast}{6}
\edg{thermalgenl}{genlmsgput}{6}
\edg{nlbroadcast}{kmemfree}{6}
\edg{nlbroadcast}{kfreeskbmem}{6}
\edg{nlbroadcast}{consumeskb}{12}
\edg{nlbroadcast}{wakeup}{6}
\edg{nlbroadcast}{readlock}{6}
\edg{nlbroadcast}{readunlock}{6}
\draw[e] (nlbroadcast) .. controls (1900,515) and (2400,520) .. node[lb]{6} (nltrim);
\edg{preparereply}{genlmsgput}{4}
\edg{genlmsgput}{nlmsgput}{10}
\draw[e] (nlmsgput) .. controls (1900,590) and (1600,600) .. node[lb]{10} (skbput);
\edg{readgeneric}{detachfds}{1}
\draw[e] (detachfds) .. controls (2150,510) and (2370,520) .. node[lb]{1} (notinflight);
\edg{notinflight}{spinlock}{1}
\edg{notinflight}{iouring}{1}
\draw[e] (notinflight) .. controls (2300,640) and (1800,690) .. node[lb,pos=0.3]{1} (spinunlock);
\edg{queuercvone}{udpenq}{1}
\draw[e] (udpenq) .. controls (2200,600) and (2070,630) .. node[lb]{1} (rcuunlock);
\draw[e] (udpenq) .. controls (2150,640) and (1750,700) .. node[lb,pos=0.3]{1} (spinunlock);
\draw[e] (nlunicast) .. controls (2900,540) and (2300,550) .. node[lb]{4} (nlsendskb);
% unix gc / sock
\edg{headstate}{destructscm}{498}
\draw[e] (headstate) .. controls (1550,520) and (1520,600) .. node[lb]{1} (sockwfree);
\edg{destructscm}{sockwfree}{498}
\draw[e] (destructscm) .. controls (1330,575) and (1295,590) .. node[lb]{498} (putpid);
\edg{destructscm}{putpidpart}{2}
\edg{defreadable}{wakesync}{410}
\edg{defreadable}{wakecommonlock}{410}
\edg{sockwfree}{wakesync}{1}
\edg{sockwfree}{writespace}{498}
\edg{sockwfree}{wakecommonlock}{1}
\draw[e] (sockwfree) .. controls (1600,635) and (1950,640) .. node[lb,pos=0.3]{499} (rcuunlock);
\edg{spaceadj}{mstamp}{4}
\edg{mstamp}{ktimeget}{5}
\edg{allocskb}{forcedmem}{4}
\edg{allocskb}{charge}{4}
\edg{allocskb}{allocskb2}{4}
\draw[e] (getfrag) .. controls (1400,470) and (1340,480) .. node[lb]{2} (charge);
% top right
\edg{wakeupcommon}{recvwake}{8}
\edg{orphanupd}{orphancount}{17}
\edg{starthandle}{addtimer}{3}
\edg{moddelayed}{addtimer}{20}
\edg{queuedelayed}{addtimer}{75}
\edg{acpisig}{up}{59}
\edg{up}{lockirqsave}{59}
\edg{writetimer}{writetimerh}{4}
\edg{openat}{getname}{10}
\edg{rtlint}{napisched}{3}
\edg{rtlint}{napisched2}{3}
\edg{napisched2}{raisesoftirq}{3}
\edg{sockclose}{sockrelease}{6}
\edg{unixrelsock}{skfree}{4}
\edg{unixrelsock}{skdestruct}{4}
\edg{sockrelease}{downwrite}{6}
\edg{sockrelease}{unixrelease}{6}
\edg{sockrelease}{upwrite}{6}
\edg{sockrelease}{moduleput}{6}
\edg{v4rcv}{v4dorcv}{1}
\edg{v4dorcv}{rcvest}{1}
\edg{rtlpoll}{napicomplete}{3}
\draw[e] (rtlpoll) .. controls (2700,120) and (2900,140) .. node[lb]{1} (3200,145) -- (napigro);
\edg{inet6send}{sendprep}{2}
\edg{inetsend}{sendprep}{4}
\draw[e] (napicomplete) .. controls (2750,135) and (2990,140) .. node[lb]{1} (netifrecv);
\draw[e] (napicomplete) .. controls (2760,130) and (3060,140) .. node[lb,pos=0.7]{1} (hrtimer);
\draw[e] (napicomplete) .. controls (2770,128) and (3150,135) .. node[lb,pos=0.75]{1} (unlockirq);
\draw[e] (netifrecv) .. controls (3100,200) and (3300,220) .. node[lb]{1} (listcore);
\draw[e] (netifrecv) .. controls (3150,195) and (3440,200) .. node[lb,pos=0.7]{1} (deferrx);
\edg{rcvest}{queuercv}{1}
\edg{rcvest}{datarecv}{1}
\edg{rcvest}{acksnd}{1}
\edg{rcvest}{sendackpart}{1}
\edg{rcvest}{sendack}{1}
\edg{rcvest}{dataready}{1}
\edg{rcvest}{tcpack}{1}
\draw[e] (rcvest) .. controls (2700,220) and (2450,260) .. node[lb]{1} (checkspace);
\draw[e] (rcvest) .. controls (2600,200) and (1700,450) .. node[lb,pos=0.3]{1} (mstamp);
\draw[e] (sendackpart) .. controls (2700,260) and (2400,270) .. node[lb]{1} (transmit);
\edg{tcpack}{rategen}{1}
\edg{tcpack}{xmitrec}{1}
\edg{tcpack}{rackadv}{1}
\edg{tcpack}{rateskbdel}{1}
\edg{tcpack}{acktstamp}{1}
\edg{tcpack}{reownd}{1}
\edg{tcpack}{losspr}{1}
\draw[e] (tcpack) .. controls (2900,260) and (2550,300) .. node[lb]{1} (chronostop);
\draw[e] (tcpack) .. controls (2900,250) and (2600,232) .. node[lb,pos=0.6]{1} (ktimesec);
\edg{listcore}{ipv6listrcv}{1}
\edg{ipv6listrcv}{sublistrcv}{1}
\draw[e] (ipv6listrcv) .. controls (3300,360) and (3020,450) .. node[lb]{1} (ip6rcvcore);
\edg{sublistrcv}{sublistfin}{1}
\edg{sublistrcv}{rcvfincore}{1}
\edg{rcvfincore}{earlydemux}{1}
\edg{sublistfin}{inputfin}{1}
\edg{sublistfin}{ip6input}{1}
\edg{inputfin}{protodeliver}{1}
\edg{protodeliver}{rawdeliver}{1}
\edg{protodeliver}{udpv6rcv}{1}
\edg{protodeliver}{udp6librcv}{1}
\draw[e] (napigro) .. controls (3500,160) and (3515,200) .. (3515,260) -- node[lb]{1} (3515,520) -- (devgro);
\edg{devgro}{ipv6gro}{1}
\edg{udp6librcv}{unicastrcv}{1}
\edg{udp6librcv}{csuminit}{1}
\edg{ipv6gro}{udpgro}{1}
\edg{ipv6gro}{udp6gro}{1}
\edg{udp6gro}{csummagic}{1}
\edg{udp6gro}{grocsum}{1}
\edg{unicastrcv}{queuercvskb}{1}
\draw[e] (grocsum) .. controls (3400,765) and (2300,790) .. node[lb]{1} (skbchecksum);
\edg{skdestruct2}{bpfstorage}{4}
\draw[e] (taskstats) .. controls (3220,470) and (3150,490) .. node[lb]{4} (nlunicast);
\edg{nlunicast}{filtertrim}{4}
\edg{nlunicast}{nllookup}{4}
\edg{nlunicast}{attachskb}{4}
\edg{attachskb}{setownerr}{4}
% rcu bundles
\foreach \sa/\la in {ip6output/2,ipoutput/5,ip6mtu/4,ip6dstcheck/3,ip6rcvcore/1,devqxmit/7,inputfin/1,devgro/1,bpfstorage/4,rawdeliver/1,udp6librcv/1,fqcodel/7}{
  \draw[e] (\sa) .. controls +(0,50) and (2300,668) .. node[lb,pos=0.15]{\la} (rculock.east);
}
\foreach \sa/\la in {ip6output/2,ipoutput/5,ip6mtu/4,ip6dstcheck/3,ip6rcvcore/1,inputfin/1,devgro/1,bpfstorage/1}{
  \draw[e] (\sa) .. controls +(0,42) and (2150,652) .. node[lb,pos=0.25]{\la} (rcuunlock.north east);
}
\end{pgfonlayer}
\end{tikzpicture}
\end{document}
